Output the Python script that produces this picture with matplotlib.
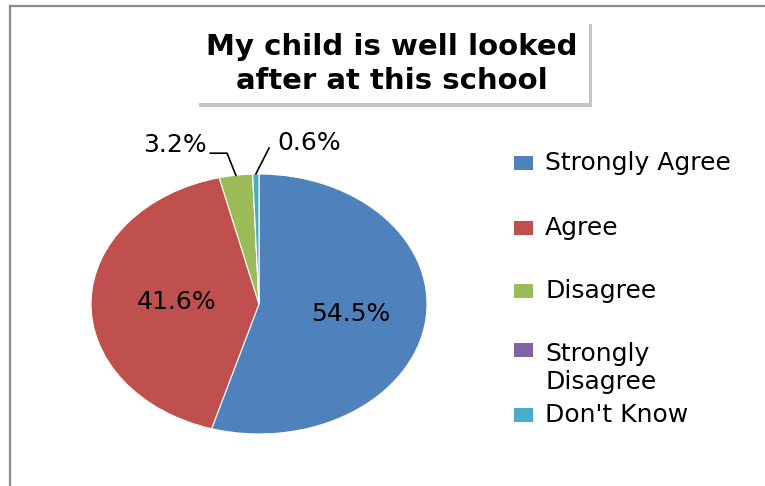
import numpy as np
import matplotlib
matplotlib.use("Agg")
import matplotlib.pyplot as plt
from matplotlib.patches import Rectangle
from matplotlib.lines import Line2D

# data
categories = ["Strongly Agree", "Agree", "Disagree", "Strongly\nDisagree", "Don't Know"]
percentages = [54.5, 41.6, 3.2, 0.0, 0.6]
colors = ["#4F81BD", "#C0504D", "#9BBB59", "#8064A2", "#4BACC6"]
title = "My child is well looked\nafter at this school"

W, H = 765, 486
fig = plt.figure(figsize=(W / 100, H / 100), dpi=100)
fig.patch.set_facecolor("white")

def fx(px):
    return px / W

def fy(py):
    return 1 - py / H

# outer chart border (gray, left and top visible)
fig.add_artist(Line2D([fx(10), fx(10)], [fy(6), fy(486)], color="#8c8c8c", lw=1.6))
fig.add_artist(Line2D([fx(10), fx(765)], [fy(6), fy(6)], color="#8c8c8c", lw=1.6))

# pie axes (elliptical pie)
ax = fig.add_axes([fx(91), fy(434), fx(427) - fx(91), fy(174) - fy(434)])
wedges, _ = ax.pie(percentages, colors=colors, startangle=90, counterclock=False,
                   wedgeprops=dict(linewidth=0.8, edgecolor="white"))
ax.set_aspect("auto")
ax.set_xlim(-1, 1)
ax.set_ylim(-1, 1)
ax.axis("off")

# data labels
fracs = np.array(percentages) / sum(percentages)
start = 90.0
for i, (p, f) in enumerate(zip(percentages, fracs)):
    mid = np.deg2rad(start - f * 360 / 2)
    start -= f * 360
    if p == 0:
        continue
    txt = f"{p:.1f}%"
    if p > 10:
        r = 0.55 if i == 0 else 0.49
        ax.text(r * np.cos(mid), r * np.sin(mid), txt, ha="center", va="center",
                fontsize=18, color="black")
    else:
        ex, ey = np.cos(mid), np.sin(mid)
        if i == 2:
            ax.text(-0.31, 1.22, txt, ha="right", va="center", fontsize=18)
            ax.plot([-0.29, -0.19, ex], [1.16, 1.16, ey], color="black", lw=1.2,
                    clip_on=False)
        else:
            ax.text(0.11, 1.24, txt, ha="left", va="center", fontsize=18)
            ax.plot([ex, 0.06], [ey, 1.2], color="black", lw=1.2, clip_on=False)

# title box with shadow
fig.add_artist(Rectangle((fx(199), fy(107)), fx(589) - fx(196), fy(20) - fy(103),
                         facecolor="#a0a0a0", edgecolor="none", alpha=0.6))
fig.add_artist(Rectangle((fx(196), fy(103)), fx(589) - fx(196), fy(20) - fy(103),
                         facecolor="white", edgecolor="none"))
fig.text(fx(392), fy(64), title, ha="center", va="center", fontsize=21,
         fontweight="bold", family="DejaVu Sans", linespacing=1.3)

# legend
legend_y = [163, 228, 291, 368, 415]
for lab, col, y in zip(categories, colors, legend_y):
    ry = y if "\n" not in lab else y - 18
    fig.add_artist(Rectangle((fx(514), fy(ry + 7)), fx(533) - fx(514), fy(0) - fy(14),
                             facecolor=col, edgecolor="none"))
    fig.text(fx(545), fy(y), lab, ha="left", va="center", fontsize=18,
             linespacing=1.25)

fig.savefig("out.png", dpi=100)
